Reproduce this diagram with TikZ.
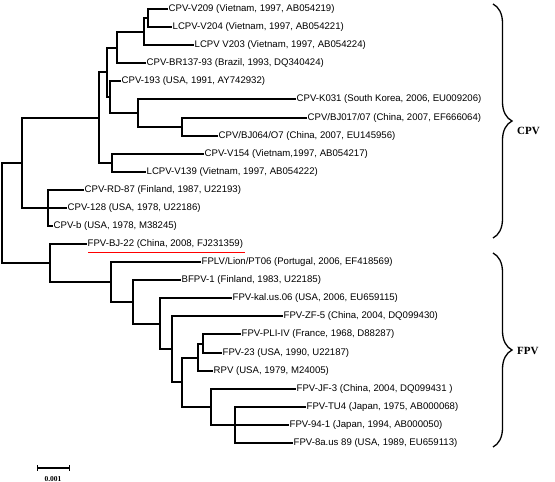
\documentclass[tikz,border=0pt]{standalone}
\usepackage{fontspec}
\setmainfont{Liberation Serif}
\newfontfamily\labfont{Liberation Sans}
\usetikzlibrary{decorations.pathreplacing}
\begin{document}
\begin{tikzpicture}[x=1pt,y=-1pt,
  br/.style={line width=2pt, line cap=rect},
  leaf/.style={anchor=west, inner sep=1.5pt, font=\labfont\fontsize{9.6}{10}\selectfont},
  grp/.style={anchor=west, inner sep=0pt, font=\bfseries\fontsize{11}{12}\selectfont},
  brc/.style={decorate, decoration={brace, amplitude=19pt}, line width=1.3pt}]
\useasboundingbox (0,0) rectangle (555,482);
% leaves
\node[leaf] (l1) at (167,9) {CPV-V209 (Vietnam, 1997, AB054219)};
\node[leaf] (l2) at (171,27) {LCPV-V204 (Vietnam, 1997, AB054221)};
\node[leaf] (l3) at (193,45) {LCPV V203 (Vietnam, 1997, AB054224)};
\node[leaf] (l4) at (145,63) {CPV-BR137-93 (Brazil, 1993, DQ340424)};
\node[leaf] (l5) at (120,81) {CPV-193 (USA, 1991, AY742932)};
\node[leaf] (l6) at (295,99) {CPV-K031 (South Korea, 2006, EU009206)};
\node[leaf] (l7) at (306,118) {CPV/BJ017/07 (China, 2007, EF666064)};
\node[leaf] (l8) at (217,136) {CPV/BJ064/O7 (China, 2007, EU145956)};
\node[leaf] (l9) at (203,154) {CPV-V154 (Vietnam,1997, AB054217)};
\node[leaf] (l10) at (145,172) {LCPV-V139 (Vietnam, 1997, AB054222)};
\node[leaf] (l11) at (83,190) {CPV-RD-87 (Finland, 1987, U22193)};
\node[leaf] (l12) at (66,208) {CPV-128 (USA, 1978, U22186)};
\node[leaf] (l13) at (52,226) {CPV-b (USA, 1978, M38245)};
\node[leaf] (l14) at (86,244) {FPV-BJ-22 (China, 2008, FJ231359)};
\node[leaf] (l15) at (200,262) {FPLV/Lion/PT06 (Portugal, 2006, EF418569)};
\node[leaf] (l16) at (180,280) {BFPV-1 (Finland, 1983, U22185)};
\node[leaf] (l17) at (231,298) {FPV-kal.us.06 (USA, 2006, EU659115)};
\node[leaf] (l18) at (282,316) {FPV-ZF-5 (China, 2004, DQ099430)};
\node[leaf] (l19) at (240,334) {FPV-PLI-IV (France, 1968, D88287)};
\node[leaf] (l20) at (221,353) {FPV-23 (USA, 1990, U22187)};
\node[leaf] (l21) at (212,371) {RPV (USA, 1979, M24005)};
\node[leaf] (l22) at (295,389) {FPV-JF-3 (China, 2004, DQ099431 )};
\node[leaf] (l23) at (305,407) {FPV-TU4 (Japan, 1975, AB000068)};
\node[leaf] (l24) at (288,425) {FPV-94-1 (Japan, 1994, AB000050)};
\node[leaf] (l25) at (292,443) {FPV-8a.us 89 (USA, 1989, EU659113)};
% internal nodes
\coordinate (A) at (148,18);
\coordinate (B) at (144,32);
\coordinate (C) at (117,48);
\coordinate (J) at (182,127);
\coordinate (F) at (138,113);
\coordinate (E) at (110,97);
\coordinate (D) at (107,72);
\coordinate (H) at (112,163);
\coordinate (G) at (99,118);
\coordinate (K) at (48,208);
\coordinate (L) at (22,163);
\coordinate (T) at (203,344);
\coordinate (S) at (198,358);
\coordinate (V) at (235,425);
\coordinate (U) at (211,407);
\coordinate (R) at (182,382);
\coordinate (Q) at (172,349);
\coordinate (P) at (160,324);
\coordinate (O) at (133,302);
\coordinate (N) at (111,282);
\coordinate (M) at (50,263);
\coordinate (Root) at (2,213);
% branches
\draw[br] (A) |- (l1.west) (A) |- (l2.west)
  (B) |- (A) (B) |- (l3.west)
  (C) |- (B) (C) |- (l4.west)
  (D) |- (C) (D) |- (E)
  (E) |- (l5.west) (E) |- (F)
  (F) |- (l6.west) (F) |- (J)
  (J) |- (l7.west) (J) |- (l8.west)
  (G) |- (D) (G) |- (H)
  (H) |- (l9.west) (H) |- (l10.west)
  (L) |- (G) (L) |- (K)
  (K) |- (l11.west) (K) |- (l12.west) (K) |- (l13.west)
  (Root) |- (L) (Root) |- (M)
  (M) |- (l14.west) (M) |- (N)
  (N) |- (l15.west) (N) |- (O)
  (O) |- (l16.west) (O) |- (P)
  (P) |- (l17.west) (P) |- (Q)
  (Q) |- (l18.west) (Q) |- (R)
  (R) |- (S) (R) |- (U)
  (S) |- (T) (S) |- (l21.west)
  (T) |- (l19.west) (T) |- (l20.west)
  (U) |- (l22.west) (U) |- (V)
  (V) |- (l23.west) (V) |- (l24.west) (V) |- (l25.west);
% red underline
\draw[red, line width=1.2pt] ([xshift=2pt,yshift=-2pt]l14.south west) -- ([yshift=-2pt]l14.south east);
% braces
\coordinate (c1) at (493,4);
\coordinate (c2) at (493,238);
\draw[brc] (c1) -- (c2);
\node[grp] (cpv) at (517,131) {CPV};
\coordinate (f1) at (493,253);
\coordinate (f2) at (493,447);
\draw[brc] (f1) -- (f2);
\node[grp] (fpv) at (517,351) {FPV};
% scale bar
\coordinate (s1) at (37,468);
\coordinate (s2) at (69,468);
\draw[line width=1.4pt] (s1) -- (s2);
\draw[line width=1pt] ([yshift=3pt]s1) -- ([yshift=-3pt]s1) ([yshift=3pt]s2) -- ([yshift=-3pt]s2);
\node[font=\bfseries\fontsize{7.5}{8}\selectfont, inner sep=0pt] (sl) at (53,479) {0.001};
\end{tikzpicture}
\end{document}
